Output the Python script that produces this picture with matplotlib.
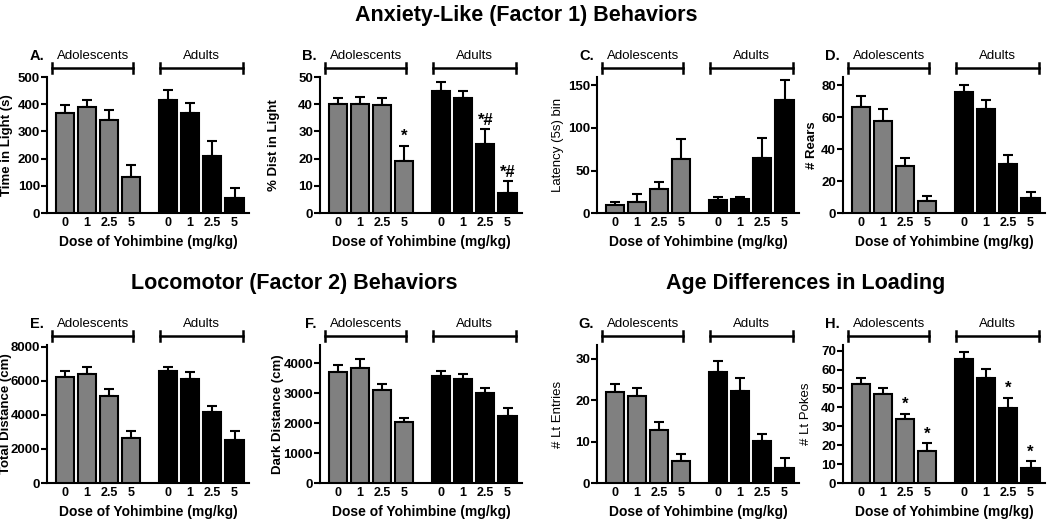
import numpy as np
import matplotlib
matplotlib.use("Agg")
import matplotlib.pyplot as plt
import matplotlib.transforms as mtransforms

plt.rcParams["font.family"] = ["Liberation Sans", "DejaVu Sans"]

doses = ["0", "1", "2.5", "5"]
xlabel = "Dose of Yohimbine (mg/kg)"

# panel data: mean and SEM (upper error only), adolescents then adults
a_adol = [369, 390, 343, 134]
a_adol_err = [27, 27, 35, 44]
a_adult = [415, 369, 211, 56]
a_adult_err = [36, 36, 52, 37]

b_adol = [40.2, 40.2, 39.6, 19.3]
b_adol_err = [2.0, 2.5, 2.6, 5.5]
b_adult = [44.9, 42.4, 25.4, 7.3]
b_adult_err = [3.4, 2.5, 5.5, 4.4]

c_adol = [9.8, 13.4, 28.3, 63.6]
c_adol_err = [3.6, 9.0, 7.8, 23.6]
c_adult = [14.9, 16.5, 65.2, 132.8]
c_adult_err = [4.0, 2.0, 23.2, 24.0]

d_adol = [66.3, 57.6, 29.5, 7.5]
d_adol_err = [6.8, 7.6, 4.8, 3.3]
d_adult = [75.6, 65.2, 30.8, 9.1]
d_adult_err = [4.4, 5.2, 5.6, 4.2]

e_adol = [6235, 6373, 5118, 2667]
e_adol_err = [335, 411, 392, 372]
e_adult = [6569, 6118, 4157, 2549]
e_adult_err = [255, 411, 353, 490]

f_adol = [3709, 3821, 3092, 2028]
f_adol_err = [224, 313, 202, 146]
f_adult = [3552, 3462, 3014, 2230]
f_adult_err = [190, 168, 168, 269]

g_adol = [22.0, 20.9, 12.9, 5.3]
g_adol_err = [1.8, 2.1, 1.7, 1.8]
g_adult = [26.8, 22.2, 10.1, 3.5]
g_adult_err = [2.6, 3.2, 1.8, 2.5]

h_adol = [52.3, 47.3, 34.1, 17.0]
h_adol_err = [3.4, 3.2, 2.6, 4.2]
h_adult = [65.4, 55.8, 39.9, 8.1]
h_adult_err = [3.7, 4.4, 5.3, 3.6]

# significance marks: bar index -> text
b_adol_sig = {3: "*"}
b_adult_sig = {2: "*#", 3: "*#"}
h_adol_sig = {2: "*", 3: "*"}
h_adult_sig = {2: "*", 3: "*"}

panels = [
    ("A.", "Time in Light (s)", "bold", a_adol, a_adol_err, a_adult, a_adult_err,
     500, np.arange(0, 501, 100), {}, {}),
    ("B.", "% Dist in Light", "bold", b_adol, b_adol_err, b_adult, b_adult_err,
     50, np.arange(0, 51, 10), b_adol_sig, b_adult_sig),
    ("C.", "Latency (5s) bin", "normal", c_adol, c_adol_err, c_adult, c_adult_err,
     160, [0, 50, 100, 150], {}, {}),
    ("D.", "# Rears", "bold", d_adol, d_adol_err, d_adult, d_adult_err,
     85, np.arange(0, 81, 20), {}, {}),
    ("E.", "Total Distance (cm)", "bold", e_adol, e_adol_err, e_adult, e_adult_err,
     8100, np.arange(0, 8001, 2000), {}, {}),
    ("F.", "Dark Distance (cm)", "bold", f_adol, f_adol_err, f_adult, f_adult_err,
     4600, np.arange(0, 4001, 1000), {}, {}),
    ("G.", "# Lt Entries", "normal", g_adol, g_adol_err, g_adult, g_adult_err,
     33.3, [0, 10, 20, 30], {}, {}),
    ("H.", "# Lt Pokes", "normal", h_adol, h_adol_err, h_adult, h_adult_err,
     73, np.arange(0, 71, 10), h_adol_sig, h_adult_sig),
]

W, H = 1050, 519
fig = plt.figure(figsize=(W / 100, H / 100), dpi=100)

lefts = [47, 320, 597, 843]
ylabel_x = [7, 274, 558, 812, 6, 278, 558, 806]   # label centre, px
ax_w = 202
rows = [(213, 136), (483, 138)]   # (bottom px, height px)

adol_x = np.arange(4)
adult_x = np.arange(4) + 4.65
GRAY = "#808080"


def draw_panel(ax, p, lab_x):
    letter, ylab, ylw, ad, ad_e, au, au_e, ytop, yticks, sig_ad, sig_au = p
    for xs, vals, errs, col in [(adol_x, ad, ad_e, GRAY), (adult_x, au, au_e, "black")]:
        ax.bar(xs, vals, width=0.82, color=col, edgecolor="black", linewidth=1.5, zorder=3)
        ax.errorbar(xs, vals, yerr=[np.zeros(4), errs], fmt="none", ecolor="black",
                    elinewidth=1.5, capsize=3.5, capthick=1.5, zorder=2)
    for xs, vals, errs, sig in [(adol_x, ad, ad_e, sig_ad), (adult_x, au, au_e, sig_au)]:
        for i, s in sig.items():
            ax.annotate(s, (xs[i], vals[i] + errs[i]), xytext=(0, 1), textcoords="offset points",
                        ha="center", va="bottom", fontsize=12, fontweight="bold")

    ax.set_xlim(-0.8, 8.3)
    ax.set_ylim(0, ytop)
    ax.set_yticks(yticks)
    ax.set_xticks(np.concatenate([adol_x, adult_x]))
    ax.set_xticklabels(doses * 2)
    for sp in ["top", "right"]:
        ax.spines[sp].set_visible(False)
    for sp in ["left", "bottom"]:
        ax.spines[sp].set_linewidth(1.5)
    ax.tick_params(axis="y", length=4, width=1.5, labelsize=9.5, pad=1)
    ax.tick_params(axis="x", length=0, labelsize=9, pad=3)
    for t in ax.get_xticklabels() + ax.get_yticklabels():
        t.set_fontweight("bold")
    ax.set_xlabel(xlabel, fontsize=10, fontweight="bold", labelpad=4)
    ax.set_ylabel(ylab, fontsize=9.5, fontweight=ylw)
    ax.yaxis.label.set_va("center")
    ax.yaxis.set_label_coords(lab_x, 0.5)

    # group brackets above the plot
    trans = mtransforms.blended_transform_factory(ax.transData, ax.transAxes)
    height = ax.get_position().height * H
    yb = 1 + 9 / height
    tick = 5 / height
    yl = 1 + 21 / height
    for x0, x1, name in [(adol_x[0] - 0.57, adol_x[-1] + 0.08, "Adolescents"),
                         (adult_x[0] - 0.36, adult_x[-1] + 0.4, "Adults")]:
        ax.plot([x0, x1], [yb, yb], color="black", lw=1.8, transform=trans, clip_on=False)
        for xe in (x0, x1):
            ax.plot([xe, xe], [yb - tick, yb + tick], color="black", lw=1.8,
                    transform=trans, clip_on=False)
        ax.text((x0 + x1) / 2, yl, name, transform=trans, ha="center", va="center",
                fontsize=9.5)
    ax.text(-0.015, yl, letter, transform=ax.transAxes, ha="right", va="center",
            fontsize=10.5, fontweight="bold")


for k, p in enumerate(panels):
    bottom_px, h_px = rows[k // 4]
    left_px = lefts[k % 4]
    ax = fig.add_axes([left_px / W, (H - bottom_px) / H, ax_w / W, h_px / H])
    draw_panel(ax, p, (ylabel_x[k] - left_px) / ax_w)

title_font = ["Liberation Sans Narrow", "Liberation Sans", "DejaVu Sans"]
fig.text(526 / W, 1 - 16 / H, "Anxiety-Like (Factor 1) Behaviors", ha="center", va="center",
         fontsize=15.5, fontweight="bold", family=title_font)
fig.text(294 / W, 1 - 283 / H, "Locomotor (Factor 2) Behaviors", ha="center", va="center",
         fontsize=15.5, fontweight="bold", family=title_font)
fig.text(806 / W, 1 - 283 / H, "Age Differences in Loading", ha="center", va="center",
         fontsize=15.5, fontweight="bold", family=title_font)

fig.savefig("out.png", dpi=100)
